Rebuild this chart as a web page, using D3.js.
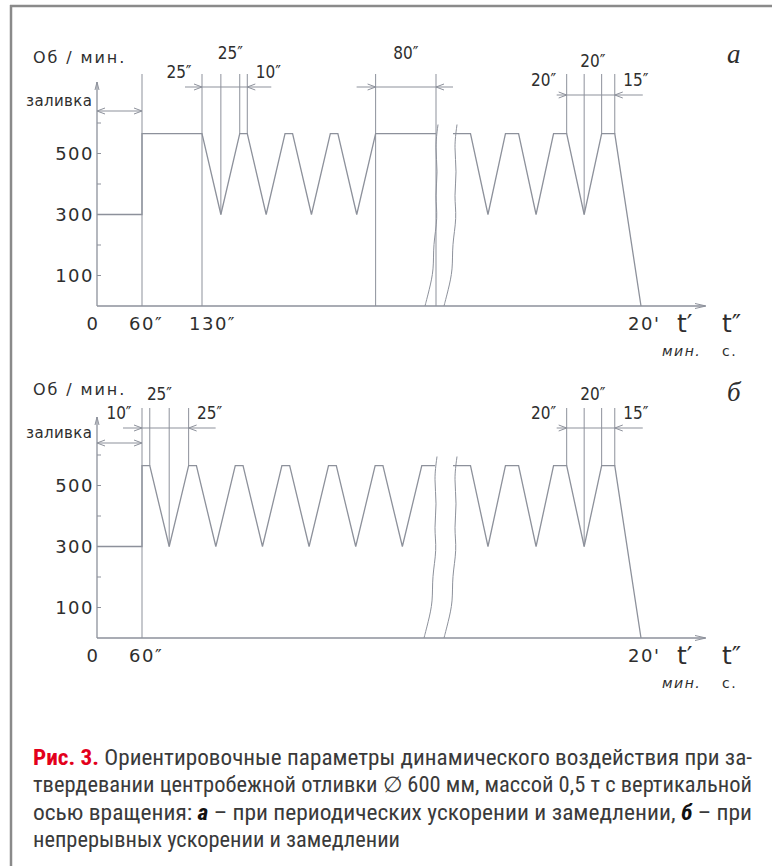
<!DOCTYPE html>
<html>
<head>
<meta charset="utf-8">
<script src="https://cdn.jsdelivr.net/npm/d3@7"></script>
<style>
  html, body { margin: 0; padding: 0; background: #fff; }
  svg text { font-family: 'DejaVu Sans', sans-serif; fill: #2e2e2e; }
</style>
</head>
<body>
<div id="chart"></div>
<script>
// rpm axis
const rpmTicks = [100, 200, 300, 400, 500, 600];
const rpmLabels = [100, 300, 500];

// panel a: periodic speed-up / slow-down (seconds, rpm)
const aTime = [0, 60, 60, 130, 155, 180, 190, 215, 240, 250, 275, 300, 310, 335, 360, 440];
const aRpm  = [300, 300, 565, 565, 300, 565, 565, 300, 565, 565, 300, 565, 565, 300, 565, 565];

// panel b: continuous speed-up / slow-down
const bTime = [0, 60, 60, 70, 95, 120, 130, 155, 180, 190, 215, 240, 250, 275, 300, 310, 335, 360, 370, 395, 420, 437];
const bRpm  = [300, 300, 565, 565, 300, 565, 565, 300, 565, 565, 300, 565, 565, 300, 565, 565, 300, 565, 565, 300, 565, 565];

// last part after the axis break (same in both panels), ends at 20 min
const tailTime = [985, 1005, 1025, 1045, 1060, 1080, 1100, 1115, 1135, 1155, 1170, 1200];
const tailRpm  = [565, 565, 300, 565, 565, 300, 565, 565, 300, 565, 565, 0];

// time axis labels
const aTickTime = [0, 60, 130, 1200];
const aTickText = ["0", "60″", "130″", "20'"];
const bTickTime = [0, 60, 1200];
const bTickText = ["0", "60″", "20'"];

// extension lines (time, rpm where the line stops)
const aMarkTime = [60, 130, 155, 180, 190, 360, 440, 1115, 1135, 1155, 1170];
const aMarkEnd  = [0, 0, 300, 565, 565, 0, 0, 565, 300, 565, 565];
const bMarkTime = [60, 70, 95, 120, 1115, 1135, 1155, 1170];
const bMarkEnd  = [0, 565, 300, 565, 565, 300, 565, 565];

// dimension chains and their labels
const aChainTime  = [[130, 155, 180, 190], [360, 440], [1115, 1135, 1155, 1170]];
const aChainLabel = [["25″", "25″", "10″"], ["80″"], ["20″", "20″", "15″"]];
const bChainTime  = [[60, 70, 95, 120], [1115, 1135, 1155, 1170]];
const bChainLabel = [["10″", "25″", "25″"], ["20″", "20″", "15″"]];

const W = 772, H = 866;
const lineColor = "#8d919b";
const dimFont = "'DejaVu Sans Condensed', 'DejaVu Sans', sans-serif";

const svg = d3.select("#chart").append("svg")
    .attr("width", W)
    .attr("height", H);

// frame (left and top border)
svg.append("line").attr("x1", 11).attr("x2", 11).attr("y1", 5).attr("y2", H)
    .attr("stroke", "#8a8a8a").attr("stroke-width", 2.5);
svg.append("line").attr("x1", 10).attr("x2", W).attr("y1", 6).attr("y2", 6)
    .attr("stroke", "#8a8a8a").attr("stroke-width", 2.5);

function chevron(g, x, y, dir) {
    // open arrow head pointing in dir (+1 right, -1 left)
    g.append("path")
        .attr("d", `M${x - dir * 8},${y - 3} L${x},${y} L${x - dir * 8},${y + 3}`)
        .attr("fill", "none").attr("stroke", lineColor).attr("stroke-width", 1);
}

function drawPanel(cfg) {
    const g = svg.append("g");
    const x = d3.scaleLinear().domain(cfg.xDomain).range(cfg.xRange);
    const y = d3.scaleLinear().domain([0, 600]).range([cfg.axisY, cfg.axisY - 183]);
    const x0 = x(0);

    // axes
    g.append("line").attr("x1", x0).attr("x2", 705).attr("y1", cfg.axisY).attr("y2", cfg.axisY)
        .attr("stroke", lineColor).attr("stroke-width", 1.3);
    g.append("path")
        .attr("d", `M695,${cfg.axisY - 2.5} L706,${cfg.axisY} L695,${cfg.axisY + 2.5}`)
        .attr("fill", "none").attr("stroke", lineColor).attr("stroke-width", 1);
    const yTop = cfg.axisY - cfg.yAxisLen;
    g.append("line").attr("x1", x0).attr("x2", x0).attr("y1", cfg.axisY).attr("y2", yTop)
        .attr("stroke", lineColor).attr("stroke-width", 1.3);
    g.append("path")
        .attr("d", `M${x0 - 2},${yTop + 8} L${x0},${yTop} L${x0 + 2},${yTop + 8}`)
        .attr("fill", "none").attr("stroke", lineColor).attr("stroke-width", 1);

    // y ticks and labels
    g.selectAll(".ytick").data(rpmTicks).enter().append("line")
        .attr("x1", x0).attr("x2", x0 + 4)
        .attr("y1", d => y(d)).attr("y2", d => y(d))
        .attr("stroke", lineColor).attr("stroke-width", 1);
    g.selectAll(".ylab").data(rpmLabels).enter().append("text")
        .attr("x", x0 - 3).attr("y", d => y(d) + 6.5)
        .attr("text-anchor", "end")
        .style("font-size", "18px").style("letter-spacing", "1.5px")
        .text(d => d);

    // axis titles
    g.append("text").attr("x", 33).attr("y", cfg.axisY - 243)
        .style("font-size", "16px").style("letter-spacing", "1.9px")
        .text("Об / мин.");
    g.append("text").attr("x", 26).attr("y", cfg.axisY - 200)
        .style("font-size", "15px").style("letter-spacing", "0.4px")
        .text("заливка");

    // x tick labels
    const ticks = cfg.tickTime.map((t, i) => ({ t, s: cfg.tickText[i] }));
    g.selectAll(".xlab").data(ticks).enter().append("text")
        .attr("x", d => d.t === 0 ? x(d.t) - 4 : x(d.t) - 13)
        .attr("y", cfg.axisY + 24)
        .attr("text-anchor", d => d.t === 0 ? "middle" : "start")
        .style("font-size", "18px").style("letter-spacing", "1.5px")
        .text(d => d.s);
    g.append("text").attr("x", 677).attr("y", cfg.axisY + 26)
        .style("font-size", "25px").text("t′");
    g.append("text").attr("x", 722).attr("y", cfg.axisY + 26)
        .style("font-size", "25px").text("t″");
    g.append("text").attr("x", 662).attr("y", cfg.axisY + 50)
        .style("font-size", "14px").style("font-style", "italic").style("letter-spacing", "1.5px")
        .text("мин.");
    g.append("text").attr("x", 722).attr("y", cfg.axisY + 50)
        .style("font-size", "14px").style("letter-spacing", "1.5px")
        .text("с.");

    // extension lines
    const marks = cfg.markTime.map((t, i) => ({ t, r: cfg.markEnd[i] }));
    g.selectAll(".mark").data(marks).enter().append("line")
        .attr("x1", d => x(d.t)).attr("x2", d => x(d.t))
        .attr("y1", cfg.axisY - cfg.markTop).attr("y2", d => y(d.r))
        .attr("stroke", lineColor).attr("stroke-width", 1);

    // profile
    const line = d3.line().x(d => x(d.t)).y(d => y(d.r));
    const head = cfg.time.map((t, i) => ({ t, r: cfg.rpm[i] }));
    const tail = tailTime.map((t, i) => ({ t, r: tailRpm[i] }));
    [head, tail].forEach(seg => {
        g.append("path").datum(seg).attr("d", line)
            .attr("fill", "none").attr("stroke", lineColor).attr("stroke-width", 1.3);
    });

    // axis break (wavy lines)
    const waveShape = [[1, 595], [-2, 520], [1, 440], [-2, 360], [1, 290], [-4, 200], [-3, 120], [-8, 50], [-12, 0]];
    const wave = d3.line().curve(d3.curveBasis).x(d => d[0]).y(d => y(d[1]));
    [x(cfg.breakAt[0]) + 1, x(cfg.breakAt[1]) + 3].forEach(bx => {
        g.append("path").datum(waveShape.map(p => [bx + p[0], p[1]])).attr("d", wave)
            .attr("fill", "none").attr("stroke", lineColor).attr("stroke-width", 1);
    });

    // filling arrow
    const fy = cfg.axisY - 195;
    g.append("line").attr("x1", x0).attr("x2", x(60)).attr("y1", fy).attr("y2", fy)
        .attr("stroke", lineColor).attr("stroke-width", 1);
    chevron(g, x0, fy, -1);
    chevron(g, x(60), fy, 1);

    // dimension chains
    cfg.chainTime.forEach((ts, ci) => {
        const ly = cfg.axisY - cfg.chainY[ci];
        const xs = ts.map(x);
        const xa = xs[0], xb = xs[xs.length - 1];
        g.append("line").attr("x1", xa - cfg.chainTail[ci][0]).attr("x2", xb + cfg.chainTail[ci][1])
            .attr("y1", ly).attr("y2", ly)
            .attr("stroke", lineColor).attr("stroke-width", 1);
        chevron(g, xa, ly, 1);
        chevron(g, xb, ly, -1);
        const labs = cfg.chainLabel[ci];
        labs.forEach((s, li) => {
            let lx, lyy;
            if (labs.length === 1 || li === 1) {
                lx = (xs[li] + xs[li + 1]) / 2; lyy = ly - 28;
            } else if (li === 0) {
                lx = xa - 23; lyy = ly - 9;
            } else {
                lx = xb + 21; lyy = ly - 9;
            }
            g.append("text").attr("x", lx).attr("y", lyy)
                .attr("text-anchor", "middle")
                .style("font-family", dimFont).style("font-stretch", "condensed")
                .style("font-size", "17px")
                .text(s);
        });
    });

    // panel letter
    g.append("text").attr("x", 727).attr("y", cfg.letterY)
        .style("font-family", "'Liberation Serif', 'DejaVu Serif', serif")
        .style("font-style", "italic").style("font-size", "27px")
        .text(cfg.letter);
}

drawPanel({
    axisY: 306, yAxisLen: 224,
    xDomain: [0, 60, 130, 440, 985, 1200], xRange: [97, 142, 202, 436, 453, 641],
    breakAt: [440, 985],
    time: aTime, rpm: aRpm,
    tickTime: aTickTime, tickText: aTickText,
    markTime: aMarkTime, markEnd: aMarkEnd, markTop: 232,
    chainTime: aChainTime, chainLabel: aChainLabel,
    chainY: [219, 219, 211], chainTail: [[17, 24], [19, 17], [10, 28]],
    letter: "а", letterY: 63
});

drawPanel({
    axisY: 638, yAxisLen: 221,
    xDomain: [0, 60, 437, 985, 1200], xRange: [97, 142, 435, 453, 641],
    breakAt: [437, 985],
    time: bTime, rpm: bRpm,
    tickTime: bTickTime, tickText: bTickText,
    markTime: bMarkTime, markEnd: bMarkEnd, markTop: 230,
    chainTime: bChainTime, chainLabel: bChainLabel,
    chainY: [210, 210], chainTail: [[19, 27], [10, 28]],
    letter: "б", letterY: 401
});

// caption
const capFont = "'Roboto Condensed', 'Liberation Sans Narrow', 'Roboto', sans-serif";
const capLines = [
    [["Рис. 3.", "red"], [" Ориентировочные параметры динамического воздействия при за-", ""]],
    [["твердевании центробежной отливки ∅ 600 мм, массой 0,5 т с вертикальной", ""]],
    [["осью вращения: ", ""], ["а", "bi"], [" – при периодических ускорении и замедлении, ", ""], ["б", "bi"], [" – при", ""]],
    [["непрерывных ускорении и замедлении", ""]]
];
const capWidth = [719, 719, 719, 367];
capLines.forEach((parts, i) => {
    const t = svg.append("text")
        .attr("x", 33).attr("y", 765 + i * 27.3)
        .attr("textLength", capWidth[i]).attr("lengthAdjust", "spacingAndGlyphs")
        .style("font-family", capFont).style("font-size", "22px")
        .style("fill", "#3a3a3a");
    parts.forEach(p => {
        const s = t.append("tspan").text(p[0]);
        if (p[1] === "red") s.style("fill", "#e3001b").style("font-weight", "bold");
        if (p[1] === "bi") s.style("font-weight", "bold").style("font-style", "italic").style("fill", "#111");
    });
});
</script>
</body>
</html>
